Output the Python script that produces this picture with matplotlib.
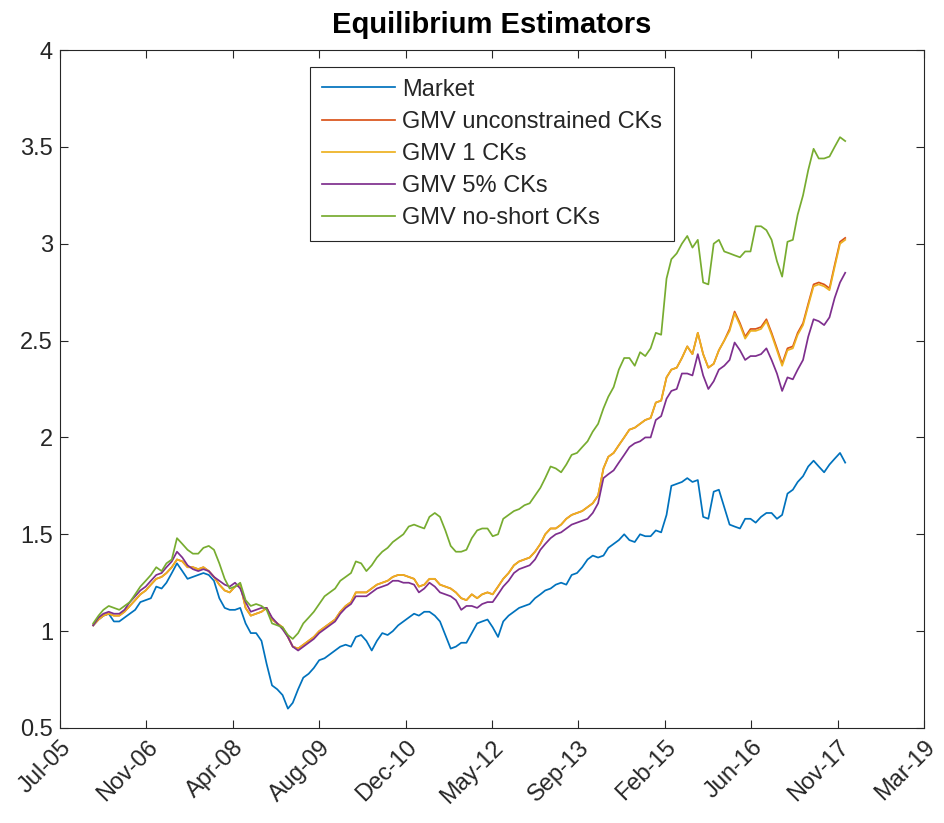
import numpy as np
import pandas as pd
import matplotlib
matplotlib.use("Agg")
import matplotlib.pyplot as plt

plt.rcParams['font.family'] = ['Liberation Sans', 'DejaVu Sans']

# Monthly observation dates (mid-month), Jan 2006 - Dec 2017
dates = pd.date_range("2006-01-01", "2017-12-01", freq="MS") + pd.Timedelta(days=14)

market = [
    1.03, 1.06, 1.08, 1.09, 1.05, 1.05, 1.07, 1.09, 1.11, 1.15, 1.16, 1.17,
    1.23, 1.22, 1.25, 1.30, 1.35, 1.31, 1.27, 1.28, 1.29, 1.30, 1.29, 1.26,
    1.17, 1.12, 1.11, 1.11, 1.12, 1.04, 0.99, 0.99, 0.95, 0.83, 0.72, 0.70,
    0.67, 0.60, 0.63, 0.70, 0.76, 0.78, 0.81, 0.85, 0.86, 0.88, 0.90, 0.92,
    0.93, 0.92, 0.97, 0.98, 0.95, 0.90, 0.95, 0.99, 0.98, 1.00, 1.03, 1.05,
    1.07, 1.09, 1.08, 1.10, 1.10, 1.08, 1.05, 0.98, 0.91, 0.92, 0.94, 0.94,
    0.99, 1.04, 1.05, 1.06, 1.02, 0.97, 1.05, 1.08, 1.10, 1.12, 1.13, 1.14,
    1.17, 1.19, 1.21, 1.22, 1.24, 1.25, 1.24, 1.29, 1.30, 1.33, 1.37, 1.39,
    1.38, 1.39, 1.43, 1.45, 1.47, 1.50, 1.47, 1.46, 1.50, 1.49, 1.49, 1.52,
    1.51, 1.60, 1.75, 1.76, 1.77, 1.79, 1.77, 1.78, 1.59, 1.58, 1.72, 1.73,
    1.64, 1.55, 1.54, 1.53, 1.58, 1.58, 1.56, 1.59, 1.61, 1.61, 1.58, 1.60,
    1.71, 1.73, 1.77, 1.80, 1.85, 1.88, 1.85, 1.82, 1.86, 1.89, 1.92, 1.87,
]

gmv_unconstrained = [
    1.03, 1.06, 1.08, 1.09, 1.08, 1.08, 1.10, 1.13, 1.16, 1.19, 1.21, 1.24,
    1.27, 1.28, 1.30, 1.33, 1.37, 1.36, 1.33, 1.33, 1.32, 1.33, 1.31, 1.28,
    1.24, 1.21, 1.20, 1.23, 1.24, 1.12, 1.08, 1.09, 1.10, 1.12, 1.06, 1.04,
    1.02, 0.97, 0.92, 0.91, 0.93, 0.95, 0.97, 1.00, 1.02, 1.04, 1.06, 1.10,
    1.13, 1.15, 1.20, 1.20, 1.20, 1.22, 1.24, 1.25, 1.26, 1.28, 1.29, 1.29,
    1.28, 1.27, 1.23, 1.24, 1.27, 1.27, 1.24, 1.23, 1.22, 1.20, 1.17, 1.16,
    1.19, 1.17, 1.19, 1.20, 1.19, 1.23, 1.27, 1.30, 1.34, 1.36, 1.37, 1.38,
    1.41, 1.45, 1.50, 1.53, 1.53, 1.55, 1.58, 1.60, 1.61, 1.62, 1.64, 1.66,
    1.70, 1.84, 1.90, 1.92, 1.96, 2.00, 2.04, 2.05, 2.07, 2.09, 2.10, 2.18,
    2.19, 2.31, 2.35, 2.36, 2.41, 2.47, 2.43, 2.54, 2.43, 2.36, 2.38, 2.45,
    2.50, 2.56, 2.65, 2.59, 2.52, 2.56, 2.56, 2.57, 2.61, 2.54, 2.46, 2.38,
    2.46, 2.47, 2.54, 2.59, 2.69, 2.79, 2.80, 2.79, 2.77, 2.89, 3.01, 3.03,
]

gmv_1 = [
    1.03, 1.06, 1.08, 1.09, 1.08, 1.08, 1.10, 1.13, 1.16, 1.19, 1.21, 1.24,
    1.27, 1.28, 1.30, 1.33, 1.37, 1.36, 1.33, 1.33, 1.32, 1.33, 1.31, 1.28,
    1.24, 1.21, 1.20, 1.23, 1.24, 1.12, 1.08, 1.09, 1.10, 1.12, 1.06, 1.04,
    1.02, 0.97, 0.92, 0.91, 0.93, 0.95, 0.97, 1.00, 1.02, 1.04, 1.06, 1.10,
    1.13, 1.15, 1.20, 1.20, 1.20, 1.22, 1.24, 1.25, 1.26, 1.28, 1.29, 1.29,
    1.28, 1.27, 1.23, 1.24, 1.27, 1.27, 1.24, 1.23, 1.22, 1.20, 1.17, 1.16,
    1.19, 1.17, 1.19, 1.20, 1.19, 1.23, 1.27, 1.30, 1.34, 1.36, 1.37, 1.38,
    1.41, 1.45, 1.50, 1.53, 1.53, 1.55, 1.58, 1.60, 1.61, 1.62, 1.64, 1.66,
    1.70, 1.84, 1.90, 1.92, 1.96, 2.00, 2.04, 2.05, 2.07, 2.09, 2.10, 2.18,
    2.19, 2.31, 2.35, 2.36, 2.41, 2.47, 2.43, 2.54, 2.43, 2.36, 2.38, 2.45,
    2.50, 2.55, 2.64, 2.58, 2.51, 2.55, 2.55, 2.56, 2.60, 2.53, 2.45, 2.37,
    2.45, 2.46, 2.53, 2.58, 2.68, 2.78, 2.79, 2.78, 2.76, 2.88, 3.00, 3.02,
]

gmv_5pct = [
    1.03, 1.07, 1.09, 1.10, 1.09, 1.09, 1.11, 1.15, 1.18, 1.21, 1.23, 1.26,
    1.29, 1.30, 1.33, 1.36, 1.41, 1.38, 1.34, 1.32, 1.31, 1.32, 1.31, 1.28,
    1.26, 1.24, 1.23, 1.25, 1.22, 1.15, 1.10, 1.11, 1.12, 1.12, 1.07, 1.04,
    1.01, 0.97, 0.92, 0.90, 0.92, 0.94, 0.96, 0.99, 1.01, 1.03, 1.05, 1.09,
    1.12, 1.14, 1.18, 1.18, 1.18, 1.20, 1.22, 1.23, 1.24, 1.26, 1.26, 1.25,
    1.25, 1.24, 1.20, 1.22, 1.25, 1.23, 1.20, 1.19, 1.18, 1.16, 1.11, 1.13,
    1.13, 1.12, 1.14, 1.15, 1.15, 1.19, 1.23, 1.26, 1.30, 1.32, 1.33, 1.34,
    1.37, 1.42, 1.45, 1.48, 1.50, 1.51, 1.53, 1.55, 1.56, 1.57, 1.58, 1.61,
    1.66, 1.79, 1.81, 1.83, 1.87, 1.91, 1.95, 1.97, 1.98, 2.00, 2.00, 2.09,
    2.11, 2.20, 2.24, 2.25, 2.33, 2.33, 2.32, 2.43, 2.32, 2.25, 2.29, 2.35,
    2.37, 2.40, 2.49, 2.45, 2.40, 2.42, 2.42, 2.43, 2.46, 2.40, 2.33, 2.24,
    2.31, 2.30, 2.35, 2.40, 2.52, 2.61, 2.60, 2.58, 2.62, 2.72, 2.80, 2.85,
]

gmv_noshort = [
    1.04, 1.08, 1.11, 1.13, 1.12, 1.11, 1.13, 1.15, 1.19, 1.23, 1.26, 1.29,
    1.33, 1.31, 1.35, 1.37, 1.48, 1.45, 1.42, 1.40, 1.40, 1.43, 1.44, 1.42,
    1.35, 1.27, 1.22, 1.23, 1.25, 1.16, 1.13, 1.14, 1.13, 1.11, 1.04, 1.03,
    1.02, 0.98, 0.96, 0.99, 1.04, 1.07, 1.10, 1.14, 1.18, 1.20, 1.22, 1.26,
    1.28, 1.30, 1.36, 1.35, 1.31, 1.34, 1.38, 1.41, 1.43, 1.46, 1.48, 1.50,
    1.54, 1.55, 1.54, 1.53, 1.59, 1.61, 1.59, 1.52, 1.44, 1.41, 1.41, 1.42,
    1.48, 1.52, 1.53, 1.53, 1.49, 1.50, 1.58, 1.60, 1.62, 1.63, 1.65, 1.66,
    1.70, 1.74, 1.79, 1.85, 1.84, 1.82, 1.86, 1.91, 1.92, 1.95, 1.98, 2.03,
    2.07, 2.15, 2.21, 2.26, 2.35, 2.41, 2.41, 2.37, 2.44, 2.42, 2.46, 2.54,
    2.53, 2.82, 2.92, 2.95, 3.00, 3.04, 2.98, 3.02, 2.80, 2.79, 3.00, 3.02,
    2.96, 2.95, 2.94, 2.93, 2.96, 2.96, 3.09, 3.09, 3.07, 3.02, 2.91, 2.83,
    3.01, 3.02, 3.15, 3.25, 3.38, 3.49, 3.44, 3.44, 3.45, 3.50, 3.55, 3.53,
]

series_labels = ["Market", "GMV unconstrained CKs", "GMV 1 CKs",
                 "GMV 5% CKs", "GMV no-short CKs"]
series_colors = ["#0072BD", "#D95319", "#EDB120", "#7E2F8E", "#77AC30"]

y_ticks = [0.5, 1.0, 1.5, 2.0, 2.5, 3.0, 3.5, 4.0]
y_tick_labels = ["0.5", "1", "1.5", "2", "2.5", "3", "3.5", "4"]
x_tick_labels = ["Jul-05", "Nov-06", "Apr-08", "Aug-09", "Dec-10", "May-12",
                 "Sep-13", "Feb-15", "Jun-16", "Nov-17", "Mar-19"]

# Date ticks every 500 days
x_tick_dates = pd.Timestamp("2005-07-07") + pd.to_timedelta(
    np.arange(len(x_tick_labels)) * 500, unit="D")

axis_color = "#262626"

fig = plt.figure(figsize=(9.45, 8.23), dpi=100)
ax = fig.add_axes([60 / 945, 1 - 728 / 823, 864 / 945, 678 / 823])

for vals, lab, col in zip([market, gmv_unconstrained, gmv_1, gmv_5pct, gmv_noshort],
                          series_labels, series_colors):
    ax.plot(dates, vals, color=col, linewidth=1.25, label=lab)

ax.set_xlim(x_tick_dates[0], x_tick_dates[-1])
ax.set_ylim(0.5, 4.0)
ax.set_xticks(x_tick_dates)
ax.set_xticklabels(x_tick_labels, rotation=45, ha="right", va="top",
                   rotation_mode="anchor")
ax.set_yticks(y_ticks)
ax.set_yticklabels(y_tick_labels)

ax.tick_params(axis="both", which="both", direction="in", length=6, width=0.8,
               top=True, right=True, colors=axis_color, labelsize=17,
               labelcolor=axis_color)
ax.tick_params(axis="x", pad=6)
ax.tick_params(axis="y", pad=5)
for sp in ax.spines.values():
    sp.set_color(axis_color)
    sp.set_linewidth(0.8)

ax.set_title("Equilibrium Estimators", fontsize=21, fontweight="bold",
             color="black", pad=12)

leg = ax.legend(loc="upper left", bbox_to_anchor=(0.289, 0.975), fontsize=17,
                frameon=True, fancybox=False, edgecolor=axis_color,
                framealpha=1.0, handlelength=3.1, handletextpad=0.3,
                labelspacing=0.43, borderpad=0.5, borderaxespad=0.0)
leg.get_frame().set_linewidth(0.8)
for t in leg.get_texts():
    t.set_color(axis_color)

fig.savefig("out.png", dpi=100)
